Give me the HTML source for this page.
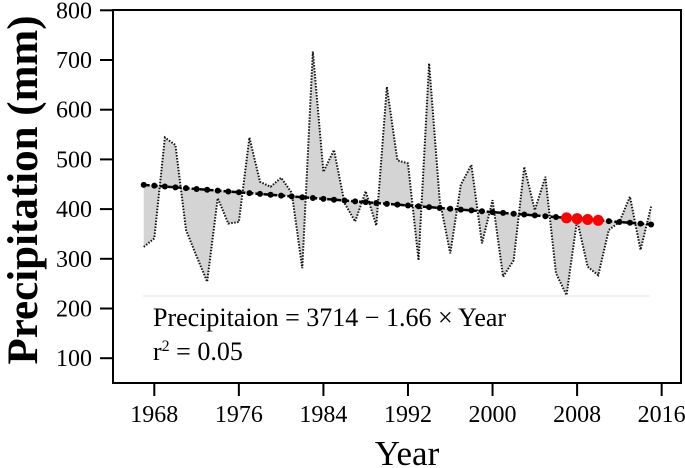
<!DOCTYPE html>
<html><head><meta charset="utf-8"><style>
body{margin:0;background:#fff}
svg{display:block;font-family:"Liberation Serif",serif}
</style></head><body>
<svg width="685" height="468" viewBox="0 0 685 468">
<g id="plot"></g>
</svg>
<script>
const years=[1967,1968,1969,1970,1971,1972,1973,1974,1975,1976,1977,1978,1979,1980,1981,1982,1983,1984,1985,1986,1987,1988,1989,1990,1991,1992,1993,1994,1995,1996,1997,1998,1999,2000,2001,2002,2003,2004,2005,2006,2007,2008,2009,2010,2011,2012,2013,2014,2015];
const precip=[324,341,544,529,358,305,254,422,371,374,544,455,445,463,433,281,717,475,519,412,375,436,367,646,498,492,297,693,418,311,449,489,331,418,264,297,485,398,465,271,227,378,284,267,358,374,425,318,405];
const redYears=[2007,2008,2009,2010];
const yTicks=[100,200,300,400,500,600,700,800];
const xTicks=[1968,1976,1984,1992,2000,2008,2016];
const intercept=3714, slope=-1.66;

const NS="http://www.w3.org/2000/svg";
const svg=document.querySelector('svg');
const X=yr=>154.3+(yr-1968)*10.57;
const Y=v=>10.3+(800-v)*0.497;
const fit=yr=>intercept+slope*yr;
function mk(tag,attrs,parent){const e=document.createElementNS(NS,tag);for(const k in attrs)e.setAttribute(k,attrs[k]);(parent||svg).appendChild(e);return e;}

let pts=years.map((y,i)=>X(y)+','+Y(precip[i]));
let back=years.slice().reverse().map(y=>X(y)+','+Y(fit(y)));
const fill=mk('polygon',{points:pts.concat(back).join(' '),fill:'#d4d4d4','fill-rule':'evenodd',stroke:'none'});


const dl=mk('polyline',{points:pts.join(' '),fill:'none',stroke:'#111','stroke-width':2,'stroke-dasharray':'1.5,1.5'});



const sep=mk('line',{x1:143,x2:650,y1:296,y2:296,stroke:'#e6e6e6','stroke-width':1});



const rl=mk('line',{x1:X(years[0]),y1:Y(fit(years[0])),x2:X(years[years.length-1]),y2:Y(fit(years[years.length-1])),stroke:'#000','stroke-width':2.5,'stroke-dasharray':'6,2'});


years.forEach(y=>{
  const red=redYears.includes(y);
  const c=mk('circle',{cx:X(y),cy:Y(fit(y)),r:red?5.5:3,fill:red?'#ff0000':'#000'});
  
  
});

const box=mk('rect',{x:113,y:10,width:568,height:373,fill:'none',stroke:'#000','stroke-width':2});


yTicks.forEach(v=>{
  const t=mk('line',{x1:100,x2:113,y1:Y(v),y2:Y(v),stroke:'#000','stroke-width':2});
  
  
  const l=mk('text',{x:92,y:Y(v)+8,'text-anchor':'end','font-size':24});
  l.textContent=v;
  
  
});
xTicks.forEach(v=>{
  const t=mk('line',{x1:X(v),x2:X(v),y1:383,y2:396,stroke:'#000','stroke-width':2});
  
  
  const l=mk('text',{x:X(v),y:422,'text-anchor':'middle','font-size':24});
  l.textContent=v;
  
  
});
const xt=mk('text',{x:407,y:465,'text-anchor':'middle','font-size':35});
xt.textContent='Year';


const yt=mk('text',{x:0,y:0,'text-anchor':'middle','font-size':43,'font-weight':'bold',transform:'translate(37,190) rotate(-90)'});
yt.textContent='Precipitation (mm)';


const eq=mk('text',{x:153,y:326,'font-size':26});
eq.textContent='Precipitaion = 3714 \u2212 1.66 \u00d7 Year';


const r2=mk('text',{x:153,y:360,'font-size':26});
r2.innerHTML='r<tspan dy="-9" font-size="16">2</tspan><tspan dy="9"> = 0.05</tspan>';


</script>
</body></html>
